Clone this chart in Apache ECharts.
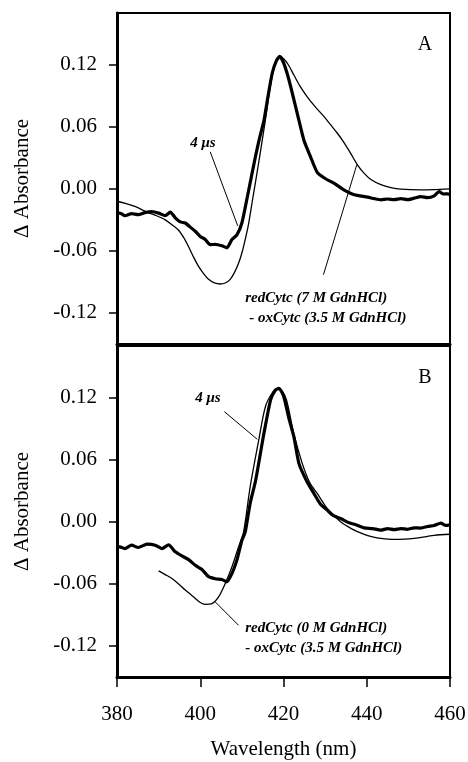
<!DOCTYPE html>
<html>
<head>
<meta charset="utf-8">
<script src="https://cdn.jsdelivr.net/npm/echarts@6/dist/echarts.min.js"></script>
<style>
  html, body { margin: 0; padding: 0; background: #fff; }
  #chart { width: 468px; height: 762px; }
</style>
</head>
<body>
<div id="chart"></div>
<script>
// panel A: 4 us transient (thick) and redCytc(7 M) - oxCytc(3.5 M) (thin)
const wlA4us = [380, 380.7, 381.9, 383.5, 385.1, 386.7, 388.4, 390.0, 391.6, 392.8, 394.0, 395.2, 396.4, 397.6, 398.8, 400.0, 401.2, 402.4, 403.6, 405.2, 406.4, 407.6, 408.8, 410.0, 411.3, 412.3, 413.3, 414.3, 415.3, 416.3, 417.3, 418.3, 419.1, 420.0, 421.3, 423.3, 424.9, 426.5, 428.1, 430.0, 432.1, 434.5, 437.0, 440.2, 441.8, 443.4, 445.0, 446.6, 448.2, 449.8, 451.4, 453.0, 454.6, 456.2, 457.4, 458.4, 459.4, 460];
const absA4us = [-0.024, -0.0235, -0.026, -0.024, -0.025, -0.023, -0.022, -0.0235, -0.026, -0.0225, -0.028, -0.032, -0.033, -0.037, -0.041, -0.046, -0.049, -0.054, -0.0536, -0.055, -0.057, -0.049, -0.0445, -0.033, -0.008, 0.012, 0.032, 0.050, 0.066, 0.090, 0.112, 0.124, 0.128, 0.122, 0.1055, 0.073, 0.047, 0.031, 0.016, 0.010, 0.0055, -0.001, -0.0058, -0.008, -0.0095, -0.0106, -0.0098, -0.0105, -0.0095, -0.0105, -0.009, -0.0075, -0.0085, -0.0068, -0.0026, -0.005, -0.0048, -0.0055];

const wlA7M = [380, 382, 384.3, 387.5, 389.5, 391.6, 393.3, 394.8, 396.0, 397.2, 398.4, 399.6, 400.8, 402.0, 403.4, 404.8, 406.0, 407.2, 408.2, 409.2, 410.0, 410.8, 411.6, 412.5, 413.5, 414.5, 415.7, 417.0, 418.2, 419.1, 420.2, 421.3, 422.5, 424.0, 425.7, 427.7, 429.7, 431.3, 432.9, 434.5, 436.1, 437.8, 439.4, 441.0, 443.4, 445.8, 448.2, 452.9, 456, 460];
const absA7M = [-0.012, -0.014, -0.017, -0.023, -0.026, -0.030, -0.035, -0.040, -0.047, -0.056, -0.066, -0.075, -0.082, -0.0875, -0.091, -0.092, -0.091, -0.0875, -0.081, -0.072, -0.062, -0.049, -0.034, -0.012, 0.012, 0.037, 0.068, 0.103, 0.124, 0.128, 0.125, 0.119, 0.110, 0.099, 0.089, 0.079, 0.070, 0.062, 0.054, 0.045, 0.0346, 0.023, 0.015, 0.009, 0.004, 0.0012, -0.0003, -0.001, -0.0008, 0];

// panel B: 4 us transient (thick) and redCytc(0 M) - oxCytc(3.5 M) (thin)
const wlB4us = [380, 380.7, 381.9, 383.5, 385.1, 387.2, 389.2, 390.8, 392.4, 394.0, 395.6, 397.2, 398.8, 400.4, 402.0, 403.6, 405.2, 406.4, 407.6, 408.8, 410.0, 410.8, 412.0, 413.3, 415.3, 416.9, 418.0, 418.9, 420.0, 421.3, 422.5, 423.7, 425.5, 427.3, 428.9, 430.5, 432.0, 433.7, 435.5, 437.5, 439.4, 441.4, 443.4, 445.0, 446.6, 448.2, 449.8, 451.4, 453.0, 454.6, 456.2, 457.8, 459.0, 460];
const absB4us = [-0.024, -0.0242, -0.0258, -0.0226, -0.0248, -0.0216, -0.0226, -0.0258, -0.0222, -0.029, -0.033, -0.0365, -0.042, -0.046, -0.053, -0.055, -0.0558, -0.058, -0.050, -0.037, -0.018, -0.010, 0.018, 0.040, 0.0856, 0.118, 0.127, 0.129, 0.122, 0.100, 0.082, 0.0565, 0.040, 0.0275, 0.017, 0.0113, 0.006, 0.0033, -0.0005, -0.003, -0.0058, -0.0065, -0.008, -0.0065, -0.0075, -0.0065, -0.0072, -0.0058, -0.006, -0.0045, -0.0035, -0.0012, -0.0035, -0.003];

const wlB0M = [390.0, 391.6, 393.2, 394.8, 396.4, 398.8, 400.0, 401.2, 402.8, 404.4, 406.0, 407.6, 409.2, 410.4, 412.0, 414.1, 415.7, 417.5, 418.5, 419.5, 420.7, 422.5, 424.5, 426.3, 428.1, 430.5, 433.7, 436.5, 439.4, 441.4, 443.4, 446.6, 449.0, 451.4, 454.0, 456.2, 460];
const absB0M = [-0.0474, -0.051, -0.0548, -0.060, -0.066, -0.074, -0.078, -0.0797, -0.079, -0.0726, -0.0596, -0.0436, -0.0242, -0.010, 0.034, 0.080, 0.112, 0.126, 0.129, 0.127, 0.118, 0.085, 0.0565, 0.038, 0.0275, 0.013, 0.0, -0.007, -0.0122, -0.0145, -0.016, -0.017, -0.0168, -0.016, -0.0145, -0.013, -0.012];

const yTicks = [-0.12, -0.06, 0, 0.06, 0.12];

const serif = '"Liberation Serif", "Times New Roman", serif';
const pair = (xs, ys) => xs.map((x, i) => [x, ys[i]]);

const chart = echarts.init(document.getElementById('chart'));

const yAxisBase = (gi) => ({
  type: 'value',
  gridIndex: gi,
  min: -0.15,
  max: 0.17,
  name: 'Δ Absorbance',
  nameLocation: 'middle',
  nameGap: 84,
  nameTextStyle: { fontFamily: serif, fontSize: 21, color: '#000' },
  axisLine: { show: true, onZero: false, lineStyle: { color: '#000', width: 3 } },
  axisTick: { show: true, inside: false, length: 8, customValues: yTicks, lineStyle: { color: '#000', width: 1.5 } },
  axisLabel: {
    customValues: yTicks, margin: 20, fontFamily: serif, fontSize: 21, color: '#000',
    formatter: v => v.toFixed(2)
  },
  splitLine: { show: false }
});

const option = {
  animation: false,
  backgroundColor: '#fff',
  grid: [
    { left: 117, right: 18, top: 13, height: 331, show: true, borderColor: '#000', borderWidth: 2, outerBoundsMode: 'none' },
    { left: 117, right: 18, top: 346, height: 331, show: true, borderColor: '#000', borderWidth: 2, outerBoundsMode: 'none' }
  ],
  xAxis: [
    {
      type: 'value', gridIndex: 0, min: 380, max: 460, interval: 20,
      axisLine: { show: true, onZero: false, lineStyle: { color: '#000', width: 3 } },
      axisTick: { show: false },
      axisLabel: { show: false },
      splitLine: { show: false }
    },
    {
      type: 'value', gridIndex: 1, min: 380, max: 460, interval: 20,
      name: 'Wavelength (nm)',
      nameLocation: 'middle',
      nameGap: 62,
      nameTextStyle: { fontFamily: serif, fontSize: 21, color: '#000' },
      axisLine: { show: true, onZero: false, lineStyle: { color: '#000', width: 3 } },
      axisTick: { show: true, inside: false, length: 10, lineStyle: { color: '#000', width: 1.5 } },
      axisLabel: { margin: 27, fontFamily: serif, fontSize: 21, color: '#000' },
      splitLine: { show: false }
    }
  ],
  yAxis: [yAxisBase(0), yAxisBase(1)],
  series: [
    { name: 'A 4 us', type: 'line', xAxisIndex: 0, yAxisIndex: 0, data: pair(wlA4us, absA4us), showSymbol: false, smooth: 0.2, lineStyle: { color: '#000', width: 3.2 } },
    { name: 'A redCytc 7M', type: 'line', xAxisIndex: 0, yAxisIndex: 0, data: pair(wlA7M, absA7M), showSymbol: false, smooth: 0.3, lineStyle: { color: '#000', width: 1.3 } },
    { name: 'B 4 us', type: 'line', xAxisIndex: 1, yAxisIndex: 1, data: pair(wlB4us, absB4us), showSymbol: false, smooth: 0.2, lineStyle: { color: '#000', width: 3.2 } },
    { name: 'B redCytc 0M', type: 'line', xAxisIndex: 1, yAxisIndex: 1, data: pair(wlB0M, absB0M), showSymbol: false, smooth: 0.3, lineStyle: { color: '#000', width: 1.3 } }
  ]
};

chart.setOption(option);

// annotations, placed in data units of each panel
const notes = [
  { g: 0, at: [397.6, 0.0445], text: '4 μs' },
  { g: 0, at: [410.8, -0.1055], text: 'redCytc (7 M GdnHCl)' },
  { g: 0, at: [411.8, -0.125], text: '- oxCytc (3.5 M GdnHCl)' },
  { g: 1, at: [398.8, 0.1197], text: '4 μs' },
  { g: 1, at: [410.8, -0.1029], text: 'redCytc (0 M GdnHCl)' },
  { g: 1, at: [410.8, -0.1223], text: '- oxCytc (3.5 M GdnHCl)' }
];
const pointers = [
  { g: 0, from: [402.4, 0.0358], to: [409.0, -0.0358] },
  { g: 0, from: [429.6, -0.083], to: [437.6, 0.0232] },
  { g: 1, from: [405.8, 0.1065], to: [413.7, 0.0798] },
  { g: 1, from: [403.6, -0.0774], to: [409.2, -0.100] }
];
const panelLetters = [
  { g: 0, at: [454.0, 0.139], text: 'A' },
  { g: 1, at: [454.0, 0.139], text: 'B' }
];

const px = (g, p) => chart.convertToPixel({ xAxisIndex: g, yAxisIndex: g }, p);
const graphics = [];
notes.forEach(n => {
  const [x, y] = px(n.g, n.at);
  graphics.push({
    type: 'text', x: x, y: y,
    style: { text: n.text, font: 'italic bold 15px ' + serif, fill: '#000', verticalAlign: 'middle', align: 'left' }
  });
});
pointers.forEach(p => {
  const a = px(p.g, p.from), b = px(p.g, p.to);
  graphics.push({
    type: 'line',
    shape: { x1: a[0], y1: a[1], x2: b[0], y2: b[1] },
    style: { stroke: '#000', lineWidth: 1 }
  });
});
panelLetters.forEach(n => {
  const [x, y] = px(n.g, n.at);
  graphics.push({
    type: 'text', x: x, y: y,
    style: { text: n.text, font: '20px ' + serif, fill: '#000', verticalAlign: 'middle', align: 'center' }
  });
});
chart.setOption({ graphic: graphics });
</script>
</body>
</html>
